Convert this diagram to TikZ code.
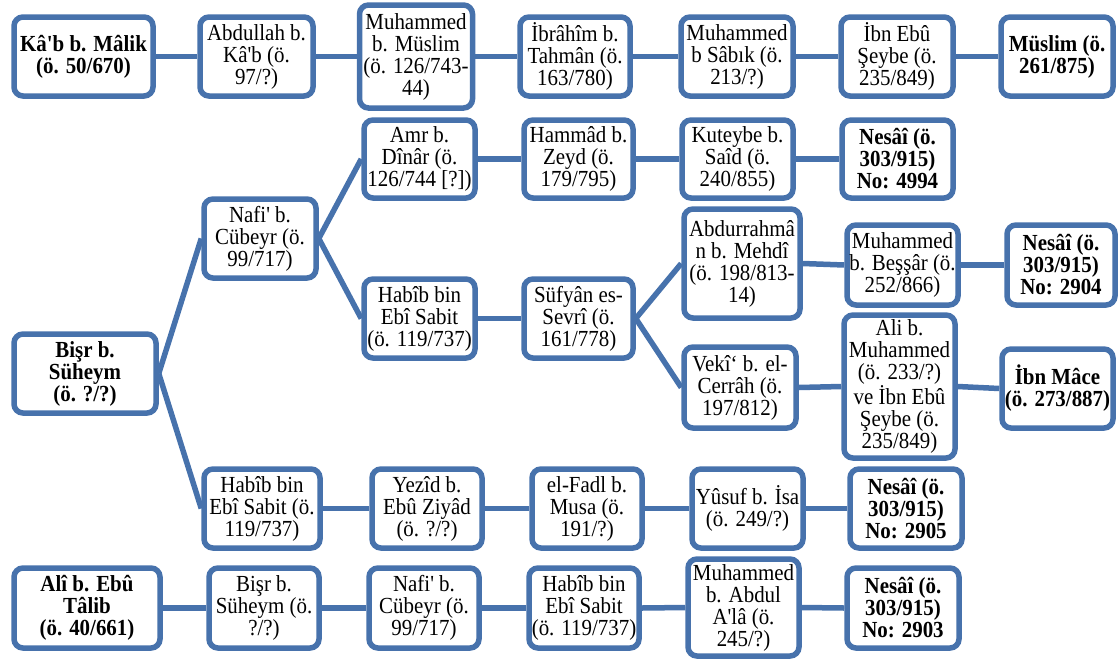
\documentclass[tikz,border=0pt]{standalone}
\usepackage{fontspec}
\setmainfont{Liberation Serif}[Ligatures=TeXOff, FakeStretch=0.91]
\definecolor{lineblue}{RGB}{71,114,172}
\tikzset{
  box/.style={draw=lineblue, line width=5.5pt, rounded corners=9pt, fill=white,
    align=center, inner sep=0pt, font=\fontsize{23}{22}\selectfont},
  bbox/.style={box, font=\fontsize{23}{22}\selectfont\bfseries},
  link/.style={draw=lineblue, line width=5.5pt}
}
\begin{document}
\begin{tikzpicture}[x=1pt,y=-1pt]
\useasboundingbox (0,0) rectangle (1118,659);
% Row 1
\node[bbox, minimum width=139pt, minimum height=79pt] (k1) at (83.5,56.5) {Kâ'b b. Mâlik\\(ö. 50/670)};
\node[box, minimum width=113pt, minimum height=79pt] (k2) at (256.5,56.5) {Abdullah b.\\Kâ'b (ö.\\97/?)};
\node[box, minimum width=113pt, minimum height=103pt] (k3) at (416,56.5) {Muhammed\\b. Müslim\\(ö. 126/743-\\44)};
\node[box, minimum width=110pt, minimum height=79pt] (k4) at (575,56.5) {İbrâhîm b.\\Tahmân (ö.\\163/780)};
\node[box, minimum width=112pt, minimum height=79pt] (k5) at (737,56.5) {Muhammed\\b Sâbık (ö.\\213/?)};
\node[box, minimum width=112pt, minimum height=79pt] (k6) at (897,56.5) {İbn Ebû\\Şeybe (ö.\\235/849)};
\node[bbox, minimum width=112pt, minimum height=79pt] (k7) at (1057,56.5) {Müslim (ö.\\261/875)};
% Middle block
\node[bbox, minimum width=142pt, minimum height=79pt] (bisr) at (85,373.5) {Bişr b.\\Süheym\\(ö. ?/?)};
\node[box, minimum width=112pt, minimum height=79pt] (nafi) at (260,238.5) {Nafi' b.\\Cübeyr (ö.\\99/717)};
\node[box, minimum width=111pt, minimum height=78pt] (amr) at (419.5,159) {Amr b.\\Dînâr (ö.\\126/744 [?])};
\node[box, minimum width=109pt, minimum height=78pt] (hammad) at (578.5,159) {Hammâd b.\\Zeyd (ö.\\179/795)};
\node[box, minimum width=111pt, minimum height=78pt] (kuteybe) at (737.5,159) {Kuteybe b.\\Saîd (ö.\\240/855)};
\node[bbox, minimum width=111pt, minimum height=78pt] (n4994) at (897.5,159) {Nesâî (ö.\\303/915)\\No: 4994};
\node[box, minimum width=111pt, minimum height=79pt] (habib) at (419.5,318.5) {Habîb bin\\Ebî Sabit\\(ö. 119/737)};
\node[box, minimum width=109pt, minimum height=79pt] (sufyan) at (578.5,318.5) {Süfyân es-\\Sevrî (ö.\\161/778)};
\node[box, minimum width=116pt, minimum height=109pt] (abdur) at (742,263.5) {Abdurrahmâ\\n b. Mehdî\\(ö. 198/813-\\14)};
\node[box, minimum width=111pt, minimum height=80pt] (bessar) at (902.5,265) {Muhammed\\b. Beşşâr (ö.\\252/866)};
\node[bbox, minimum width=108pt, minimum height=80pt] (n2904) at (1061,265) {Nesâî (ö.\\303/915)\\No: 2904};
\node[box, minimum width=112pt, minimum height=81pt] (veki) at (740,387.5) {Vekî‘ b. el-\\Cerrâh (ö.\\197/812)};
\node[box, minimum width=111pt, minimum height=143pt] (ali) at (899.5,386.5) {Ali b.\\Muhammed\\(ö. 233/?)\\ve İbn Ebû\\Şeybe (ö.\\235/849)};
\node[bbox, minimum width=111pt, minimum height=79pt] (mace) at (1057.5,388.5) {İbn Mâce\\(ö. 273/887)};
% Lower chain
\node[box, minimum width=116pt, minimum height=79pt] (habib2) at (262,508.5) {Habîb bin\\Ebî Sabit (ö.\\119/737)};
\node[box, minimum width=110pt, minimum height=79pt] (yezid) at (427,508.5) {Yezîd b.\\Ebû Ziyâd\\(ö. ?/?)};
\node[box, minimum width=110pt, minimum height=79pt] (fadl) at (587,508.5) {el-Fadl b.\\Musa (ö.\\191/?)};
\node[box, minimum width=111pt, minimum height=79pt] (yusuf) at (747.5,508.5) {Yûsuf b. İsa\\(ö. 249/?)};
\node[bbox, minimum width=112pt, minimum height=79pt] (n2905) at (906,508.5) {Nesâî (ö.\\303/915)\\No: 2905};
% Bottom row
\node[bbox, minimum width=146pt, minimum height=80pt] (ali2) at (87,608) {Alî b. Ebû\\Tâlib\\(ö. 40/661)};
\node[box, minimum width=110pt, minimum height=80pt] (bisr2) at (264,608) {Bişr b.\\Süheym (ö.\\?/?)};
\node[box, minimum width=110pt, minimum height=80pt] (nafi2) at (424,608) {Nafi' b.\\Cübeyr (ö.\\99/717)};
\node[box, minimum width=110pt, minimum height=80pt] (habib3) at (584,608) {Habîb bin\\Ebî Sabit\\(ö. 119/737)};
\node[box, minimum width=111pt, minimum height=97pt] (muhabd) at (743.5,607.5) {Muhammed\\b. Abdul\\A'lâ (ö.\\245/?)};
\node[bbox, minimum width=112pt, minimum height=80pt] (n2903) at (903,608) {Nesâî (ö.\\303/915)\\No: 2903};
% Connectors
\draw[link] (k1.east) -- (k2.west);
\draw[link] (k2.east) -- (k3.west);
\draw[link] (k3.east) -- (k4.west);
\draw[link] (k4.east) -- (k5.west);
\draw[link] (k5.east) -- (k6.west);
\draw[link] (k6.east) -- (k7.west);
\draw[link] (bisr.east) -- (nafi.west);
\draw[link] (bisr.east) -- (habib2.west);
\draw[link] (nafi.east) -- (amr.west);
\draw[link] (nafi.east) -- (habib.west);
\draw[link] (amr.east) -- (hammad.west);
\draw[link] (hammad.east) -- (kuteybe.west);
\draw[link] (kuteybe.east) -- (n4994.west);
\draw[link] (habib.east) -- (sufyan.west);
\draw[link] (sufyan.east) -- (abdur.west);
\draw[link] (sufyan.east) -- (veki.west);
\draw[link] (abdur.east) -- (bessar.west);
\draw[link] (bessar.east) -- (n2904.west);
\draw[link] (veki.east) -- (ali.west);
\draw[link] (ali.east) -- (mace.west);
\draw[link] (habib2.east) -- (yezid.west);
\draw[link] (yezid.east) -- (fadl.west);
\draw[link] (fadl.east) -- (yusuf.west);
\draw[link] (yusuf.east) -- (n2905.west);
\draw[link] (ali2.east) -- (bisr2.west);
\draw[link] (bisr2.east) -- (nafi2.west);
\draw[link] (nafi2.east) -- (habib3.west);
\draw[link] (habib3.east) -- (muhabd.west);
\draw[link] (muhabd.east) -- (n2903.west);
\end{tikzpicture}
\end{document}
